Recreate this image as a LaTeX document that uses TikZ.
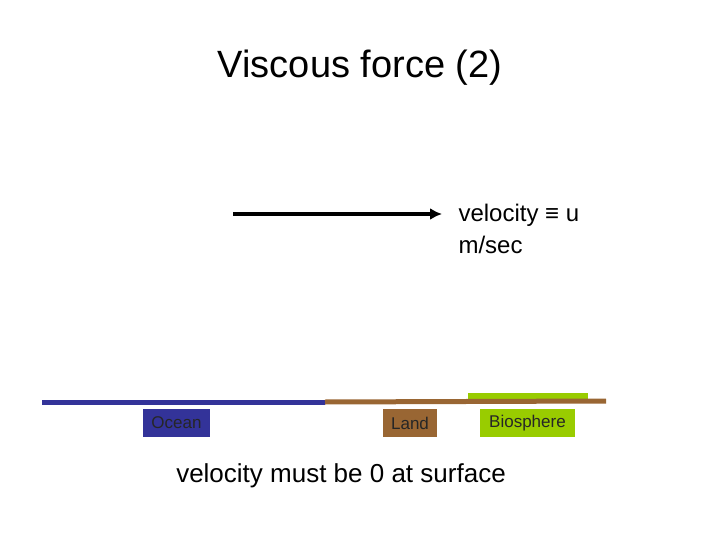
\documentclass[tikz,border=0pt]{standalone}
\usepackage{fontspec}
\setmainfont{Liberation Sans}
\usetikzlibrary{arrows.meta}
\definecolor{oceanc}{HTML}{333399}
\definecolor{landc}{HTML}{996633}
\definecolor{bioc}{HTML}{99CC00}
\begin{document}
\begin{tikzpicture}[x=1pt,y=-1pt,
  lbl/.style={draw=none,minimum height=28pt,inner sep=0pt,font=\fontsize{17}{20}\selectfont,text=black!85}]
\useasboundingbox (0,0) rectangle (720,540);
\node (title) at (360,68) {\fontsize{38}{44}\selectfont Viscous force (2)};
\coordinate (as) at (233,214);
\coordinate (ae) at (442,214);
\draw[line width=4pt,-{Latex[length=12pt,width=12pt]}] (as) -- (ae);
\node[anchor=west,align=left,font=\fontsize{24}{32}\selectfont] (vel) at (455,229) {velocity ≡ u\\ m/sec};
\coordinate (b1) at (42,402); \coordinate (b2) at (325,402); \coordinate (b3) at (606,401);
\coordinate (g1) at (468,396); \coordinate (g2) at (588,396);
\draw[oceanc,line width=5pt] (b1) -- (b2);
\draw[bioc,line width=6pt] (g1) -- (g2);
\draw[landc,line width=5pt] (b2) -- (b3);
\node[lbl,fill=oceanc,minimum width=67pt] (ocean) at (176.5,423) {Ocean};
\node[lbl,fill=landc,minimum width=54pt] (land) at (410,423) {Land};
\node[lbl,fill=bioc,minimum width=95pt] (bio) at (527.5,423) {Biosphere};
\node (bottom) at (341,476) {\fontsize{26}{30}\selectfont velocity must be 0 at surface};
\end{tikzpicture}
\end{document}
